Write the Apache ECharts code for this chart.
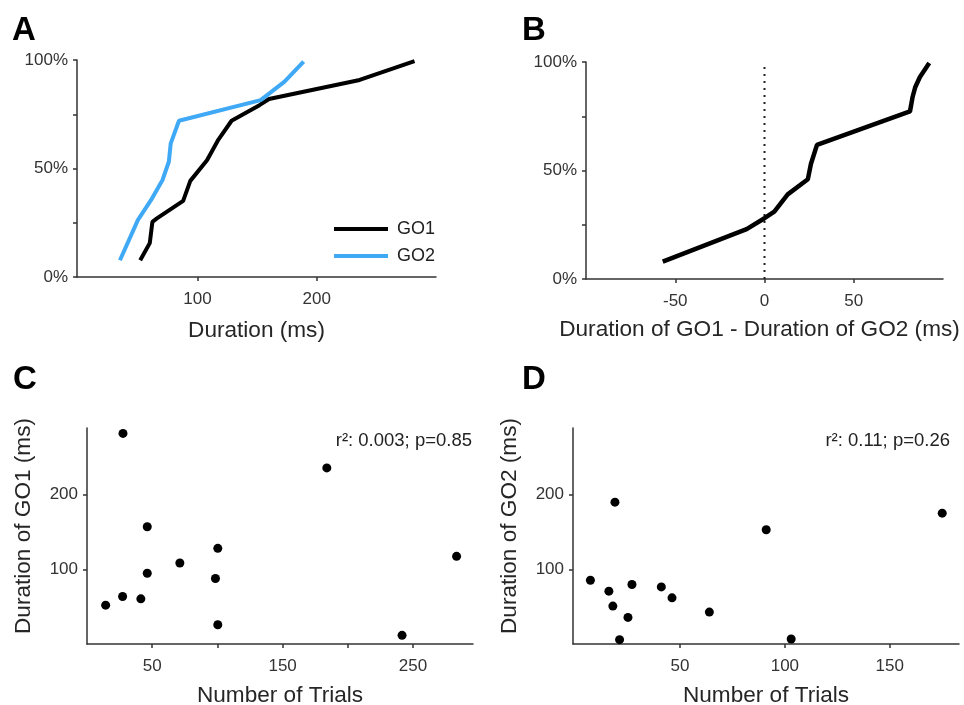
<!DOCTYPE html>
<html>
<head>
<meta charset="utf-8">
<script src="https://cdn.jsdelivr.net/npm/echarts@6/dist/echarts.min.js"></script>
<style>
html,body{margin:0;padding:0;background:#fff;}
#chart{width:964px;height:705px;}
</style>
</head>
<body>
<div id="chart"></div>
<script>
// Panel A: cumulative distributions of duration
const go1Dur = [52, 60, 62.2, 66, 88, 94, 108, 117, 128.6, 152, 160, 236, 282];
const go1Cum = [7.7, 15.6, 25.4, 27, 35.1, 44.3, 53.8, 62.8, 72, 79.2, 82, 90.8, 99.5];
const go2Dur = [35, 50, 61, 70.6, 76, 77.6, 84.5, 153, 173, 189];
const go2Cum = [7.7, 26.2, 35.4, 44.6, 53.1, 61.6, 72, 81.5, 90, 99.2];
// Panel B: cumulative distribution of differences
const diffVal = [-57, -10, 0, 5.5, 13, 24.3, 26, 29.4, 81.5, 83, 84.5, 87, 92.3];
const diffCum = [8, 23, 28, 31, 39, 46, 53, 61.8, 77.2, 84, 88.5, 93, 99.5];
const zeroLineX = [0, 0];
const zeroLineY = [0, 100];
// Panel C: trials vs GO1 duration
const trialsC = [14.3, 27.3, 27.6, 41.3, 46.2, 46.2, 71.2, 98.5, 100.3, 100.3, 183.9, 241.6, 283.4];
const go1Vals = [52, 63.6, 281.8, 60.4, 94.7, 156.9, 108.4, 87.6, 128, 25.8, 235.6, 11.6, 117.3];
// Panel D: trials vs GO2 duration
const trialsD = [7.3, 16.1, 18, 19, 21.2, 25.2, 27.1, 41.1, 46.2, 64, 91.1, 103, 175];
const go2Vals = [85.3, 70.7, 50.7, 189.8, 5.8, 35.6, 79.6, 76.4, 61.8, 42.7, 152.9, 6.7, 175.1];
// Tick values
const pctTicks = [0, 25, 50, 75, 100];
const pctLabels = [0, 50, 100];
const aXLabels = [100, 200];
const bXLabels = [-50, 0, 50];
const cXTicks = [50, 100, 150, 200, 250];
const cXLabels = [50, 150, 250];
const dXTicks = [50, 100, 150];
const durTicks = [100, 200];

const FONT = "'Liberation Sans', Arial, sans-serif";
const axisCol = '#333';
const labCol = '#333';
const nameCol = '#262626';
const blue = '#40A9F6';

function zip(a, b) { return a.map((v, i) => [v, b[i]]); }

function xAx(gi, min, max, ticks, labels, name, gap, pad) {
  return {
    gridIndex: gi, type: 'value', min: min, max: max,
    name: name, nameLocation: 'middle', nameGap: gap,
    nameTextStyle: {fontFamily: FONT, fontSize: 22.6, color: nameCol, padding: pad || 0},
    axisLine: {show: true, onZero: false, lineStyle: {color: axisCol, width: 1.5}},
    axisTick: {show: true, length: 4, customValues: ticks, lineStyle: {color: axisCol, width: 1.5}},
    axisLabel: {customValues: labels, margin: 14, fontFamily: FONT, fontSize: 17, color: labCol},
    splitLine: {show: false}
  };
}
function yAx(gi, min, max, ticks, labels, fmt, name, gap) {
  return {
    gridIndex: gi, type: 'value', min: min, max: max,
    name: name || '', nameLocation: 'middle', nameGap: gap || 0,
    nameTextStyle: {fontFamily: FONT, fontSize: 22.6, color: nameCol, padding: [0, 0, 0, 20]},
    axisLine: {show: true, onZero: false, lineStyle: {color: axisCol, width: 1.5}},
    axisTick: {show: true, length: 4, customValues: ticks, lineStyle: {color: axisCol, width: 1.5}},
    axisLabel: {customValues: labels, margin: 9, fontFamily: FONT, fontSize: 17, color: labCol, formatter: fmt},
    splitLine: {show: false}
  };
}

const chart = echarts.init(document.getElementById('chart'), null, {renderer: 'canvas'});
chart.setOption({
  backgroundColor: '#fff',
  animation: false,
  grid: [
    {left: 77, top: 60, width: 359, height: 217, outerBoundsMode: 'none', containLabel: false},
    {left: 586, top: 62, width: 357, height: 217, outerBoundsMode: 'none', containLabel: false},
    {left: 87, top: 428, width: 386, height: 216, outerBoundsMode: 'none', containLabel: false},
    {left: 573, top: 428, width: 386, height: 216, outerBoundsMode: 'none', containLabel: false}
  ],
  xAxis: [
    xAx(0, -1, 300, aXLabels, aXLabels, 'Duration (ms)', 42),
    xAx(1, -100, 100, bXLabels, bXLabels, 'Duration of GO1 - Duration of GO2 (ms)', 39, [0, 10, 0, 0]),
    xAx(2, 0, 296, cXTicks, cXLabels, 'Number of Trials', 40),
    xAx(3, -1, 183, dXTicks, dXTicks, 'Number of Trials', 40)
  ],
  yAxis: [
    yAx(0, 0, 100, pctTicks, pctLabels, '{value}%'),
    yAx(1, 0, 100, pctTicks, pctLabels, '{value}%'),
    yAx(2, 0, 289, durTicks, durTicks, '{value}', 'Duration of GO1 (ms)', 52),
    yAx(3, 0, 289, durTicks, durTicks, '{value}', 'Duration of GO2 (ms)', 52)
  ],
  legend: {
    orient: 'vertical', left: 334, top: 220, itemGap: 9, padding: 0,
    itemWidth: 54, itemHeight: 4, icon: 'rect',
    textStyle: {fontFamily: FONT, fontSize: 18, color: '#222', padding: [0, 0, 0, 4]},
    data: ['GO1', 'GO2']
  },
  series: [
    {name: 'GO1', type: 'line', xAxisIndex: 0, yAxisIndex: 0, data: zip(go1Dur, go1Cum),
     showSymbol: false, symbol: 'none', lineStyle: {color: '#000', width: 4}, itemStyle: {color: '#000'}},
    {name: 'GO2', type: 'line', xAxisIndex: 0, yAxisIndex: 0, data: zip(go2Dur, go2Cum),
     showSymbol: false, symbol: 'none', lineStyle: {color: blue, width: 4}, itemStyle: {color: blue}},
    {name: 'zero', type: 'line', xAxisIndex: 1, yAxisIndex: 1, data: zip(zeroLineX, zeroLineY),
     showSymbol: false, symbol: 'none', lineStyle: {color: '#222', width: 2, type: [2, 5]}},
    {name: 'diff', type: 'line', xAxisIndex: 1, yAxisIndex: 1, data: zip(diffVal, diffCum),
     showSymbol: false, symbol: 'none', lineStyle: {color: '#000', width: 4.5}},
    {name: 'C', type: 'scatter', xAxisIndex: 2, yAxisIndex: 2, data: zip(trialsC, go1Vals),
     symbolSize: 9, itemStyle: {color: '#000', opacity: 1}},
    {name: 'D', type: 'scatter', xAxisIndex: 3, yAxisIndex: 3, data: zip(trialsD, go2Vals),
     symbolSize: 9, itemStyle: {color: '#000', opacity: 1}}
  ],
  graphic: [
    {type: 'text', left: 12, top: 14, style: {text: 'A', font: "bold 33px " + FONT, fill: '#000'}},
    {type: 'text', left: 522, top: 14, style: {text: 'B', font: "bold 33px " + FONT, fill: '#000'}},
    {type: 'text', left: 13, top: 363, style: {text: 'C', font: "bold 33px " + FONT, fill: '#000'}},
    {type: 'text', left: 522, top: 363, style: {text: 'D', font: "bold 33px " + FONT, fill: '#000'}},
    {type: 'text', right: 492, top: 431, style: {text: 'r\u00b2: 0.003; p=0.85', font: "18.5px " + FONT, fill: '#222'}},
    {type: 'text', right: 14, top: 431, style: {text: 'r\u00b2: 0.11; p=0.26', font: "18.5px " + FONT, fill: '#222'}}
  ]
});
</script>
</body>
</html>
